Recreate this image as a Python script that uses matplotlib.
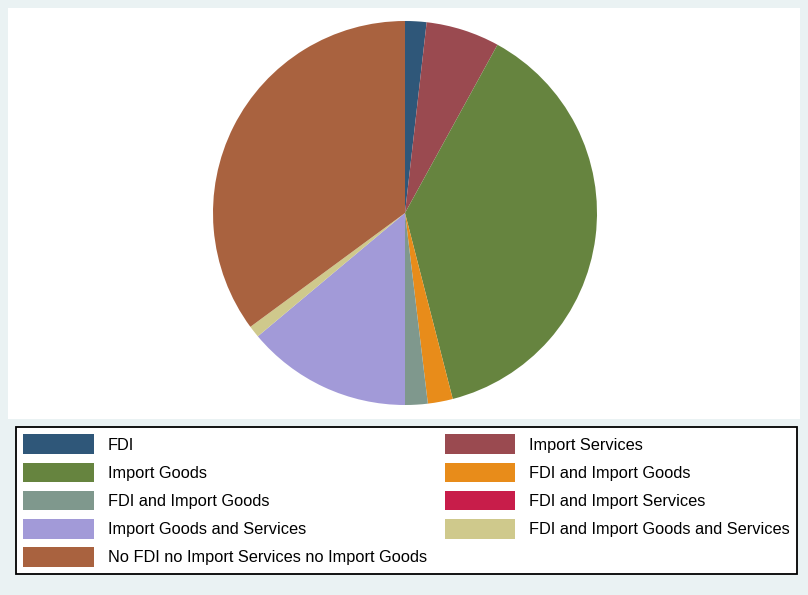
import matplotlib
matplotlib.use("Agg")
import matplotlib.pyplot as plt
from matplotlib.patches import Rectangle, Patch

labels = ["FDI", "Import Services", "Import Goods", "FDI and Import Goods",
          "FDI and Import Goods", "FDI and Import Services",
          "Import Goods and Services", "FDI and Import Goods and Services",
          "No FDI no Import Services no Import Goods"]
shares = [1.8, 6.2, 38.0, 2.1, 1.9, 0.0, 13.9, 1.0, 35.1]
colors = ["#2f5779", "#9a4a50", "#66843f", "#e88c1a", "#7f988d",
          "#c81d4a", "#a29ad8", "#cfc98c", "#a9623f"]

W, H = 808, 595
fig = plt.figure(figsize=(W / 100, H / 100), dpi=100)
fig.patch.set_facecolor("#eaf2f3")

def fx(px):
    return px / W

def fy(py):
    return 1 - py / H

# white plot region
fig.patches.append(Rectangle((fx(8), fy(419)), fx(800) - fx(8), fy(8) - fy(419),
                             transform=fig.transFigure, facecolor="white",
                             edgecolor="none", zorder=-5))

cx, cy, r = 405, 213, 192
ax = fig.add_axes([fx(cx - r), fy(cy + r), 2 * r / W, 2 * r / H])
ax.set_zorder(2)
ax.set_axis_off()
ax.pie(shares, colors=colors, startangle=90, counterclock=False,
       wedgeprops=dict(linewidth=0), radius=1.0)
ax.set_xlim(-1, 1)
ax.set_ylim(-1, 1)

handles = [Patch(facecolor=c, edgecolor="none") for c in colors]
# reorder for row-wise fill in a 2-column legend
order_col = [0, 2, 4, 6, 8, 1, 3, 5, 7]
leg = fig.legend([handles[i] for i in order_col], [labels[i] for i in order_col],
                 ncol=2, loc="upper left",
                 bbox_to_anchor=(fx(16), fy(427)), borderaxespad=0,
                 prop={"family": "Liberation Sans", "size": 11.75},
                 handlelength=4.3, handleheight=1.48, handletextpad=0.86,
                 labelspacing=0.52, columnspacing=1.1, borderpad=0.45,
                 fancybox=False, framealpha=1)
leg.get_frame().set_edgecolor("black")
leg.get_frame().set_linewidth(1.3)
leg.set_zorder(3)

fig.savefig("out.png", dpi=100, facecolor=fig.get_facecolor())
